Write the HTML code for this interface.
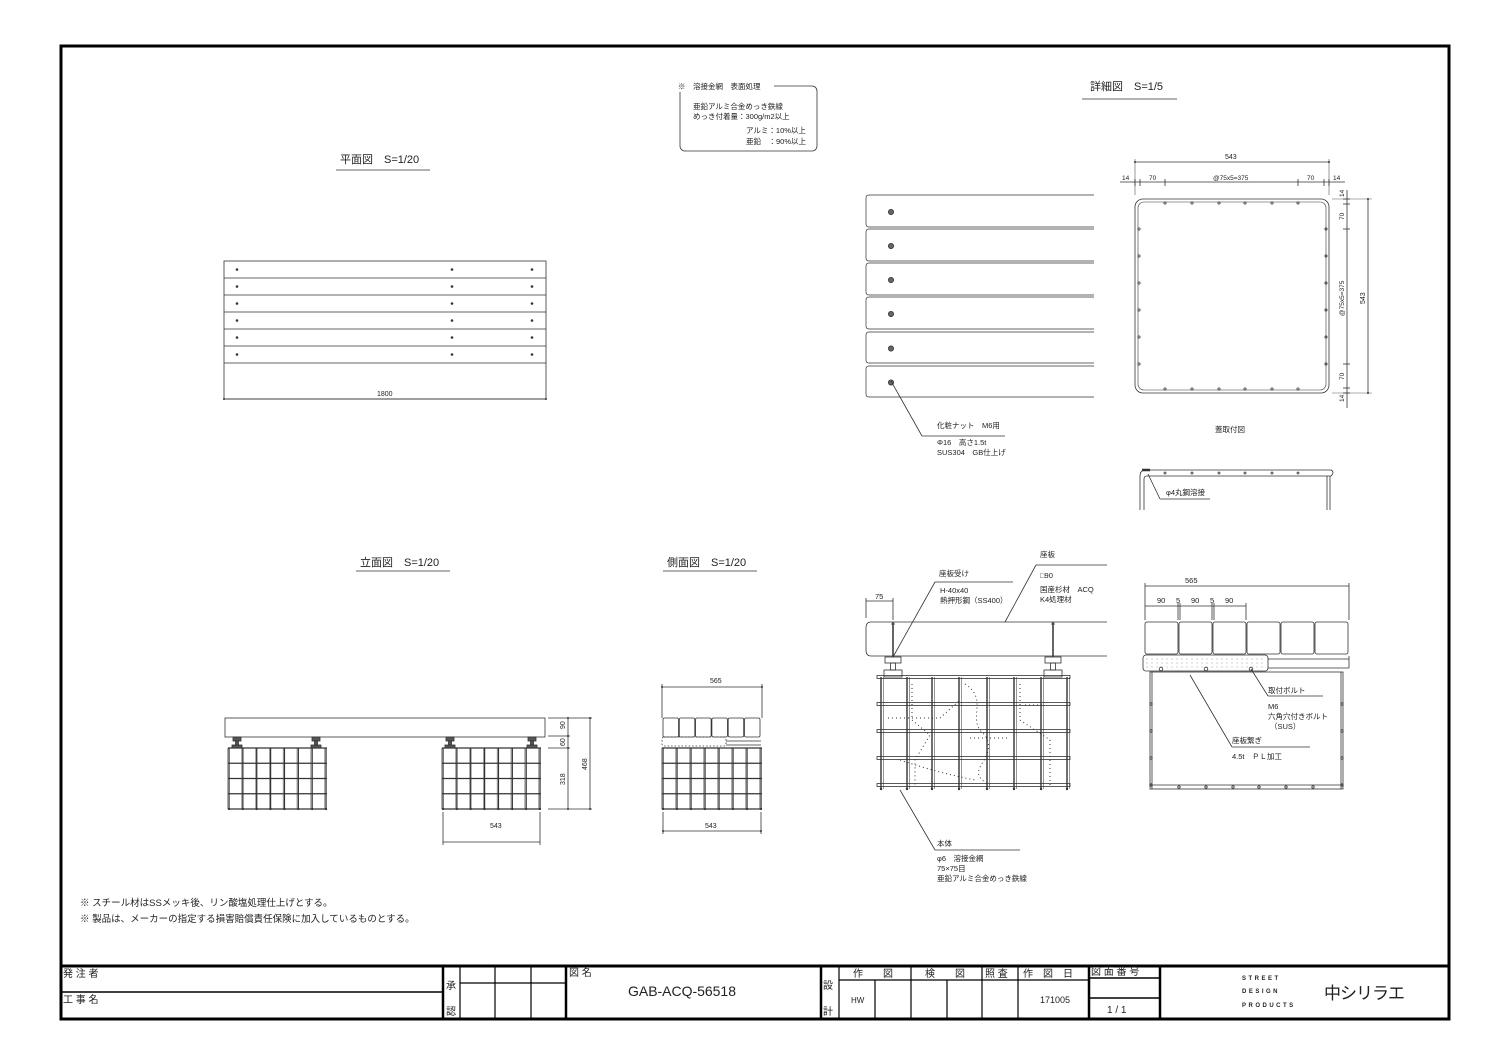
<!DOCTYPE html>
<html><head><meta charset="utf-8"><style>
html,body{margin:0;padding:0;background:#fff}
svg{display:block}
text{font-family:"Liberation Sans","Noto Sans CJK JP",sans-serif;fill:#222}
</style></head><body>
<svg id="s" width="1500" height="1060" viewBox="0 0 1500 1060" xmlns="http://www.w3.org/2000/svg" stroke="#333" fill="none" stroke-width="0.8">
<rect x="61" y="46" width="1388" height="973" stroke="#000" stroke-width="3"/>
<!-- title block -->
<g stroke="#000">
<line x1="61" y1="966" x2="1449" y2="966" stroke-width="3"/>
<line x1="61" y1="992" x2="443" y2="992" stroke-width="1.5"/>
<line x1="443" y1="966" x2="443" y2="1019" stroke-width="2.5"/>
<line x1="460" y1="966" x2="460" y2="1019" stroke-width="1.2"/>
<line x1="495" y1="966" x2="495" y2="1019" stroke-width="1.2"/>
<line x1="531" y1="966" x2="531" y2="1019" stroke-width="1.2"/>
<line x1="460" y1="983" x2="566" y2="983" stroke-width="1.2"/>
<line x1="566" y1="966" x2="566" y2="1019" stroke-width="2.5"/>
<line x1="821" y1="966" x2="821" y2="1019" stroke-width="2.5"/>
<line x1="839" y1="966" x2="839" y2="1019" stroke-width="1.2"/>
<line x1="875" y1="980" x2="875" y2="1019" stroke-width="1.2"/>
<line x1="911" y1="966" x2="911" y2="1019" stroke-width="1.2"/>
<line x1="947" y1="980" x2="947" y2="1019" stroke-width="1.2"/>
<line x1="982" y1="966" x2="982" y2="1019" stroke-width="1.2"/>
<line x1="1018" y1="966" x2="1018" y2="1019" stroke-width="1.2"/>
<line x1="839" y1="980" x2="1089" y2="980" stroke-width="1.2"/>
<line x1="1089" y1="966" x2="1089" y2="1019" stroke-width="2.5"/>
<line x1="1089" y1="978" x2="1160" y2="978" stroke-width="1.5"/>
<line x1="1089" y1="998" x2="1160" y2="998" stroke-width="1.5"/>
<line x1="1160" y1="966" x2="1160" y2="1019" stroke-width="2.5"/>
</g>
<g stroke="none" font-size="10">
<text x="63" y="977">発 注 者</text>
<text x="63" y="1003">工 事 名</text>
<text x="446" y="989">承</text>
<text x="446" y="1015">認</text>
<text x="569" y="976">図 名</text>
<text x="628" y="996" font-size="14" textLength="108" font-family="Liberation Mono,monospace" fill="#444">GAB-ACQ-56518</text>
<text x="823" y="989">設</text>
<text x="823" y="1015">計</text>
<text x="853" y="977">作　　図</text>
<text x="925" y="977">検　　図</text>
<text x="985" y="977">照 査</text>
<text x="1023" y="977">作　図　日</text>
<text x="1091" y="975">図 面 番 号</text>
<text x="851" y="1003" font-size="8">HW</text>
<text x="1040" y="1003" font-size="9">171005</text>
<text x="1107" y="1013">1 / 1</text>
<text x="1242" y="980" font-size="6" font-weight="bold" letter-spacing="2.5">STREET</text>
<text x="1242" y="993" font-size="6" font-weight="bold" letter-spacing="2.5">DESIGN</text>
<text x="1242" y="1007" font-size="6" font-weight="bold" letter-spacing="2.5">PRODUCTS</text>
<text x="1324" y="999" font-size="17" fill="#aaa" letter-spacing="-1">中シリラエ</text>
</g>

<!-- note box -->
<rect x="680" y="86" width="137" height="65" rx="5"/>
<rect x="676" y="80" width="98" height="12" fill="#fff" stroke="none"/>
<g stroke="none" font-size="7.5">
<text x="678" y="89">※　溶接金網　表面処理</text>
<text x="693" y="109">亜鉛アルミ合金めっき鉄線</text>
<text x="693" y="119">めっき付着量：300g/m2以上</text>
<text x="746" y="133">アルミ：10%以上</text>
<text x="746" y="144">亜鉛　：90%以上</text>
</g>

<!-- titles -->
<g stroke="none" font-size="11">
<text x="340" y="163">平面図　S=1/20</text>
<text x="360" y="566">立面図　S=1/20</text>
<text x="667" y="566">側面図　S=1/20</text>
<text x="1090" y="90">詳細図　S=1/5</text>
</g>
<line x1="336" y1="170" x2="430" y2="170"/>
<line x1="356" y1="571" x2="450" y2="571"/>
<line x1="663" y1="571" x2="757" y2="571"/>
<line x1="1082" y1="99" x2="1177" y2="99"/>

<!-- plan -->
<rect x="224" y="261" width="322" height="138"/>
<g id="plan"></g>
<text x="377" y="396" font-size="7" stroke="none">1800</text>

<!-- elevation -->
<rect x="225" y="718" width="320" height="19"/>
<g id="elev"></g>
<g stroke="none" font-size="7">
<text x="490" y="828">543</text>
<text x="710" y="683">565</text>
<text x="705" y="828">543</text>
<text transform="translate(565,729) rotate(-90)">90</text>
<text transform="translate(565,746) rotate(-90)">60</text>
<text transform="translate(565,785) rotate(-90)">318</text>
<text transform="translate(587,770) rotate(-90)">468</text>
</g>

<!-- detail section -->
<path d="M871,622 H1107 M871,656 H1107 M871,622 Q866,622 866,628 V650 Q866,656 871,656"/>
<g id="sec"></g>
<g stroke="none" font-size="7.5">
<text x="939" y="576">座板受け</text>
<text x="940" y="593">H-40x40</text>
<text x="940" y="603">熱押形鋼（SS400）</text>
<text x="875" y="599">75</text>
<text x="1040" y="557">座板</text>
<text x="1040" y="578">□90</text>
<text x="1040" y="592">国産杉材　ACQ</text>
<text x="1040" y="602">K4処理材</text>
<text x="937" y="846">本体</text>
<text x="937" y="861">φ6　溶接金網</text>
<text x="937" y="871">75×75目</text>
<text x="937" y="881">亜鉛アルミ合金めっき鉄線</text>
<text x="1185" y="583">565</text>
<text x="1157" y="603">90</text>
<text x="1176" y="603">5</text>
<text x="1191" y="603">90</text>
<text x="1210" y="603">5</text>
<text x="1225" y="603">90</text>
<text x="1268" y="693">取付ボルト</text>
<text x="1268" y="709">M6</text>
<text x="1268" y="719">六角穴付きボルト</text>
<text x="1270" y="729">（SUS）</text>
<text x="1232" y="743">座板繋ぎ</text>
<text x="1232" y="759">4.5t　ＰＬ加工</text>
</g>
<g>
<line x1="935" y1="582" x2="1013" y2="582"/><line x1="935" y1="582" x2="893" y2="657"/>
<line x1="1036" y1="565" x2="1107" y2="565"/><line x1="1036" y1="565" x2="1005" y2="622"/>
<line x1="935" y1="850" x2="1020" y2="850"/><line x1="935" y1="850" x2="900" y2="790"/>
<line x1="866" y1="601" x2="893" y2="601"/><line x1="866" y1="598" x2="866" y2="618"/><line x1="893" y1="598" x2="893" y2="620"/>
<line x1="1268" y1="696" x2="1323" y2="696"/><line x1="1268" y1="696" x2="1251" y2="669"/>
<line x1="1232" y1="747" x2="1310" y2="747"/><line x1="1232" y1="747" x2="1190" y2="675"/>
<line x1="1145" y1="586" x2="1349" y2="586"/><line x1="1145" y1="583" x2="1145" y2="620"/><line x1="1349" y1="583" x2="1349" y2="620"/>
<line x1="1145" y1="606" x2="1246" y2="606"/><line x1="1178" y1="603" x2="1178" y2="620"/><line x1="1180" y1="603" x2="1180" y2="620"/><line x1="1212" y1="603" x2="1212" y2="620"/><line x1="1214" y1="603" x2="1214" y2="620"/><line x1="1246" y1="603" x2="1246" y2="620"/>
</g>

<!-- detail top -->
<g id="top"></g>
<g stroke="none" font-size="7.5">
<text x="937" y="428">化粧ナット　M6用</text>
<text x="937" y="445">Φ16　高さ1.5t</text>
<text x="937" y="455">SUS304　GB仕上げ</text>
<text x="1225" y="159" font-size="7">543</text>
<text x="1122" y="180" font-size="6.5">14</text>
<text x="1149" y="180" font-size="6.5">70</text>
<text x="1213" y="180" font-size="6.5">@75x5=375</text>
<text x="1307" y="180" font-size="6.5">70</text>
<text x="1333" y="180" font-size="6.5">14</text>
<text transform="translate(1344,197) rotate(-90)" font-size="6.5">14</text>
<text transform="translate(1344,220) rotate(-90)" font-size="6.5">70</text>
<text transform="translate(1344,316) rotate(-90)" font-size="6.5">@75x5=375</text>
<text transform="translate(1344,380) rotate(-90)" font-size="6.5">70</text>
<text transform="translate(1344,402) rotate(-90)" font-size="6.5">14</text>
<text transform="translate(1365,304) rotate(-90)" font-size="7">543</text>
<text x="1215" y="432">蓋取付図</text>
<text x="1166" y="495">φ4丸鋼溶接</text>
</g>

<g stroke="none" font-size="9.5">
<text x="80" y="906">※ スチール材はSSメッキ後、リン酸塩処理仕上げとする。</text>
<text x="80" y="922">※ 製品は、メーカーの指定する損害賠償責任保険に加入しているものとする。</text>
</g>
</svg>
<script>
const NS="http://www.w3.org/2000/svg";
function el(p,t,a){const e=document.createElementNS(NS,t);for(const k in a)e.setAttribute(k,a[k]);document.getElementById(p).appendChild(e);return e;}
function L(p,x1,y1,x2,y2,extra){return el(p,'line',Object.assign({x1,y1,x2,y2},extra||{}));}
function dot(p,x,y,r,fill){return el(p,'circle',{cx:x,cy:y,r:r||1.2,fill:fill||'#333',stroke:fill?'#333':'none'});}
const py=[261,278,295,312,329,346,363];
for(let i=1;i<7;i++){L('plan',224,py[i],546,py[i]);}
for(let i=0;i<6;i++){const yy=(py[i]+py[i+1])/2;[237,452,532].forEach(x=>dot('plan',x,yy,1.3));}
L('plan',224,399,546,399);dot('plan',224,399,1);dot('plan',546,399,1);
function gab(p,x0,x1,y0,y1,nc,nr){
 el(p,'rect',{x:x0,y:y0,width:x1-x0,height:y1-y0});
 for(let i=0;i<=nc;i++){const x=x0+(x1-x0)*i/nc;L(p,x,y0,x,y1,{'stroke-width':1.3});L(p,x-1.3,y0,x-1.3,y1,{'stroke-width':0.4});}
 for(let j=0;j<=nr;j++){const y=y0+(y1-y0)*j/nr;L(p,x0-1,y,x1+1,y,{'stroke-width':1.3});}
 for(let i=0;i<=nc;i++){dot(p,x0+(x1-x0)*i/nc,y1,1.1);}
}
gab('elev',229,326,748,809,7,4);
gab('elev',443,540,748,809,7,4);
[237,316,450,532].forEach(x=>{el('elev','rect',{x:x-4,y:737,width:8,height:4,fill:'#555'});el('elev','rect',{x:x-1.5,y:741,width:3,height:4,fill:'#555'});el('elev','rect',{x:x-5,y:745,width:10,height:3,fill:'#555'});});
L('elev',548,718,592,718);L('elev',548,736,570,736);L('elev',548,748,570,748);L('elev',548,809,592,809);
L('elev',568,718,568,809);L('elev',590,718,590,809);
[718,736,748,809].forEach(y=>dot('elev',568,y,1));[718,809].forEach(y=>dot('elev',590,y,1));
L('elev',443,842,540,842);L('elev',443,812,443,845);L('elev',540,812,540,845);
gab('elev',663,761,748,809,7,4);
for(let i=0;i<6;i++){el('elev','rect',{x:663+i*16.3,y:718,width:15.5,height:19,rx:1.5});}
el('elev','rect',{x:662,y:737,width:64,height:9,rx:2,'stroke-dasharray':'1.5 2'});
L('elev',726,741,761,741);L('elev',726,745,761,745);
L('elev',662,687,762,687);L('elev',662,684,662,718);L('elev',762,684,762,718);dot('elev',662,687,1);dot('elev',762,687,1);
L('elev',663,831,761,831);L('elev',663,812,663,834);L('elev',761,812,761,834);dot('elev',663,831,1);dot('elev',761,831,1);
[893,1053].forEach(x=>{
 el('sec','rect',{x:x-8,y:657,width:16,height:6,fill:'#fff'});
 el('sec','rect',{x:x-2.5,y:663,width:5,height:7});
 el('sec','rect',{x:x-9,y:670,width:18,height:7});
 L('sec',x,622,x,657,{'stroke-width':1.5});L('sec',x-2,624,x+2,624);
});
const vx=[881,907,932,959,987,1014,1041,1067];
vx.forEach(x=>{L('sec',x,677,x,789,{'stroke-width':1.4});L('sec',x+2.5,677,x+2.5,789,{'stroke-width':0.5});});
[677,704,731,758,785].forEach(y=>{el('sec','rect',{x:877,y:y-1.5,width:193,height:3});});
vx.forEach(x=>dot('sec',x,789,1.2));
const dp='M912,684 V720 L930,735 L915,760 V785 M965,684 C990,700 965,720 985,735 C1000,760 960,770 990,785 M1020,684 V720 L1050,740 V785 M888,718 H940 L960,700 M970,738 H1010 M1025,705 H1045 M900,760 C930,770 950,775 975,780';
el('sec','path',{d:dp,'stroke-dasharray':'1 3','stroke-width':1});
for(let i=0;i<6;i++){el('sec','rect',{x:1145+i*34,y:622,width:33,height:32,rx:2});}
el('sec','rect',{x:1143,y:655,width:125,height:16,rx:3});
for(let y=659;y<670;y+=4)for(let x=1147;x<1266;x+=5)dot('sec',x,y,0.4);
L('sec',1268,659,1349,659);L('sec',1268,668,1349,668);L('sec',1349,656,1349,668);
[1161,1206,1251].forEach(x=>el('sec','circle',{cx:x,cy:669,r:1.8}));
el('sec','rect',{x:1150,y:672,width:193,height:117});
L('sec',1152,672,1152,789);L('sec',1341,672,1341,789);L('sec',1150,785,1343,785);
[1179,1206,1233,1259,1286,1313].forEach(x=>el('sec','circle',{cx:x,cy:787,r:1.2}));
[704,731,758,785].forEach(y=>{el('sec','circle',{cx:1151,cy:y,r:1.2});el('sec','circle',{cx:1342,cy:y,r:1.2});});
const pb=[[195,227],[229,261],[263,295],[297,329],[332,363],[366,397]];
pb.forEach((b,i)=>{
 el('top','path',{d:`M1094,${b[0]} H869 Q866,${b[0]} 866,${b[0]+3} V${b[1]-3} Q866,${b[1]} 869,${b[1]} H1094`,'stroke-width':0.7});
 el('top','circle',{cx:891,cy:(b[0]+b[1])/2+1,r:2.6,fill:'#666'});
});
L('top',922,436,1005,436);L('top',922,436,891,381);
el('top','rect',{x:1135,y:199,width:194,height:194,rx:8,'stroke-width':0.8});
el('top','rect',{x:1138,y:202,width:188,height:188,rx:6,'stroke-width':0.6});
[1165,1192,1219,1245,1272,1298].forEach(x=>{el('top','circle',{cx:x,cy:203,r:1.1});el('top','circle',{cx:x,cy:389,r:1.1});});
[229,256,283,310,337,364].forEach(y=>{el('top','circle',{cx:1139,cy:y,r:1.1});el('top','circle',{cx:1326,cy:y,r:1.1});});
L('top',1135,162,1329,162);
dot('top',1135,162,1);dot('top',1329,162,1);
L('top',1135,159,1135,195,{'stroke-width':0.5});L('top',1329,159,1329,195,{'stroke-width':0.5});
L('top',1120,182,1345,182);[1135,1140,1165,1298,1324,1329].forEach(x=>L('top',x,179,x,186));
L('top',1347,190,1347,408);[199,204,229,364,388,393].forEach(y=>L('top',1343,y,1350,y));
L('top',1368,199,1368,393);L('top',1332,199,1372,199,{'stroke-width':0.4});L('top',1332,393,1372,393,{'stroke-width':0.4});
dot('top',1368,199,1);dot('top',1368,393,1);
el('top','path',{d:'M1140,510 V476 Q1140,470 1146,470 H1331 Q1335,472 1331,476 H1147 Q1144,476 1144,479 V510','stroke-width':0.8});
L('top',1142,470,1150,470,{'stroke-width':2.5});
L('top',1327,476,1327,510);L('top',1330,476,1330,510);
[1165,1192,1219,1245,1272,1298].forEach(x=>el('top','circle',{cx:x,cy:473,r:1}));
L('top',1160,499,1210,499);L('top',1160,499,1148,474);
</script>
</body></html>
